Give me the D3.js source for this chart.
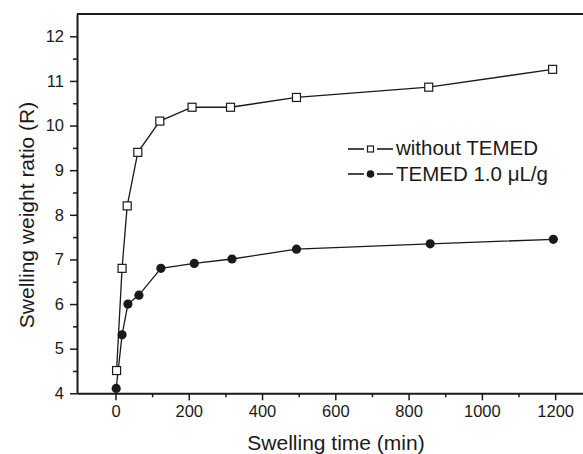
<!DOCTYPE html>
<html><head><meta charset="utf-8">
<script src="https://cdn.jsdelivr.net/npm/d3@7"></script>
<style>body{margin:0;background:#fff}svg{display:block}</style>
</head><body>
<script>
const timeA = [3, 18, 32, 61, 121, 209, 314, 494, 855, 1193];
const ratioA = [4.51, 6.80, 8.20, 9.40, 10.10, 10.41, 10.41, 10.63, 10.86, 11.26];
const timeB = [2, 18, 34, 64, 124, 215, 318, 494, 859, 1195];
const ratioB = [4.11, 5.31, 6.00, 6.20, 6.80, 6.91, 7.01, 7.23, 7.35, 7.45];
const seriesNames = ["without TEMED", "TEMED 1.0 \u03bcL/g"];
const xTicks = [0, 200, 400, 600, 800, 1000, 1200];
const yTicks = [4, 5, 6, 7, 8, 9, 10, 11, 12];
const xTitle = "Swelling time (min)";
const yTitle = "Swelling weight ratio (R)";

const W = 583, H = 454;
const svg = d3.select("body").append("svg").attr("width", W).attr("height", H);
const font = "Liberation Sans, Arial, sans-serif";
const ink = "#1a1a1a";

const x = d3.scaleLinear().domain([-105, 1276]).range([77, 583]);
const y = d3.scaleLinear().domain([4, 12.5]).range([393.3, 14]);

const xMinor = d3.range(100, 1300, 200);
const yMinor = d3.range(4.5, 12.5, 1);

const gx = svg.append("g").attr("transform", `translate(0,${y(4)})`);
gx.call(d3.axisBottom(x).tickValues(xTicks).tickFormat(d3.format("d")).tickSize(7).tickPadding(5).tickSizeOuter(0));
gx.append("g").call(d3.axisBottom(x).tickValues(xMinor).tickSize(4).tickFormat("")).select(".domain").remove();
gx.selectAll(".domain").attr("stroke-width", 2).attr("stroke", ink);
gx.selectAll("line").attr("stroke-width", 1.5).attr("stroke", ink);
gx.selectAll("text").attr("font-family", font).attr("font-size", 16.5).attr("fill", ink);

const gy = svg.append("g").attr("transform", `translate(${x(-105)},0)`);
gy.call(d3.axisLeft(y).tickValues(yTicks).tickFormat(d3.format("d")).tickSize(7).tickPadding(6).tickSizeOuter(0));
gy.append("g").call(d3.axisLeft(y).tickValues(yMinor).tickSize(4).tickFormat("")).select(".domain").remove();
gy.selectAll(".domain").attr("stroke-width", 2).attr("stroke", ink);
gy.selectAll("line").attr("stroke-width", 1.5).attr("stroke", ink);
gy.selectAll("text").attr("font-family", font).attr("font-size", 16.5).attr("fill", ink);

svg.append("line").attr("x1", x(-105)).attr("x2", x(1276)).attr("y1", y(12.5)).attr("y2", y(12.5))
  .attr("stroke", ink).attr("stroke-width", 2);

svg.append("text").attr("x", 336).attr("y", 450).attr("text-anchor", "middle")
  .attr("font-family", font).attr("font-size", 21).attr("fill", ink).text(xTitle);
svg.append("text").attr("transform", "translate(34,215) rotate(-90)").attr("text-anchor", "middle")
  .attr("font-family", font).attr("font-size", 21).attr("fill", ink).text(yTitle);

const line = d3.line().x(d => x(d[0])).y(d => y(d[1]));
const dataA = timeA.map((t, i) => [t, ratioA[i]]);
const dataB = timeB.map((t, i) => [t, ratioB[i]]);

svg.append("path").datum(dataA).attr("d", line).attr("fill", "none").attr("stroke", ink).attr("stroke-width", 1.3);
svg.append("path").datum(dataB).attr("d", line).attr("fill", "none").attr("stroke", ink).attr("stroke-width", 1.3);

svg.selectAll(".sqA").data(dataA).join("rect")
  .attr("x", d => x(d[0]) - 4).attr("y", d => y(d[1]) - 4).attr("width", 8).attr("height", 8)
  .attr("fill", "#fff").attr("stroke", ink).attr("stroke-width", 1.2);
svg.selectAll(".ciB").data(dataB).join("circle")
  .attr("cx", d => x(d[0])).attr("cy", d => y(d[1])).attr("r", 4.6).attr("fill", ink);

const lg = svg.append("g");
const rows = [{yl: 149, yt: 155}, {yl: 174, yt: 181}];
rows.forEach((r, i) => {
  lg.append("line").attr("x1", 348).attr("x2", 364).attr("y1", r.yl).attr("y2", r.yl).attr("stroke", ink).attr("stroke-width", 1.6);
  lg.append("line").attr("x1", 377).attr("x2", 393).attr("y1", r.yl).attr("y2", r.yl).attr("stroke", ink).attr("stroke-width", 1.6);
  if (i === 0) {
    lg.append("rect").attr("x", 367.5).attr("y", r.yl - 3).attr("width", 6).attr("height", 6)
      .attr("fill", "#fff").attr("stroke", ink).attr("stroke-width", 1.2);
  } else {
    lg.append("circle").attr("cx", 370.5).attr("cy", r.yl).attr("r", 3.8).attr("fill", ink);
  }
  lg.append("text").attr("x", 396).attr("y", r.yt).attr("font-family", font).attr("font-size", 20.5)
    .attr("fill", ink).text(seriesNames[i]);
});
</script>
</body></html>
